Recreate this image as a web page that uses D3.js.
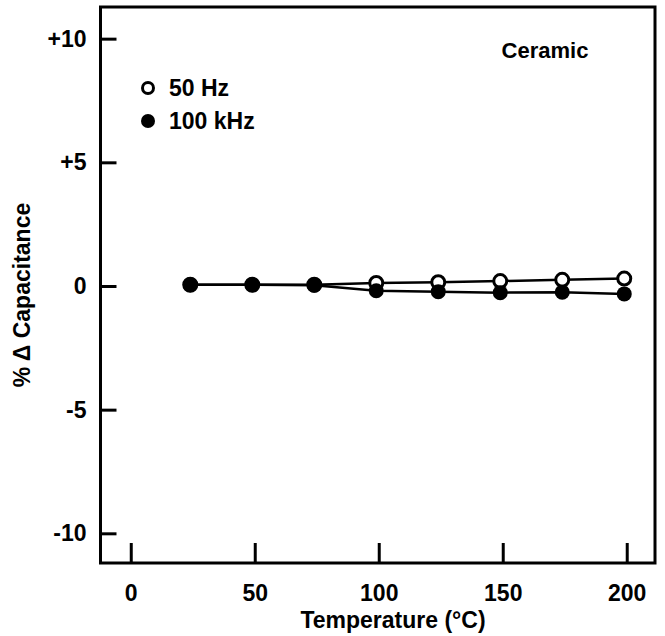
<!DOCTYPE html>
<meta charset="utf-8">
<title>Ceramic capacitance vs temperature</title>
<style>
  body { margin: 0; background: #fff; }
  text { font-family: "Liberation Sans", Arial, sans-serif; font-weight: bold; fill: #000; }
</style>
<body>
  <script src="https://d3js.org/d3.v7.min.js"></script>
  <script>
    const width = 665;
    const height = 636;

    // data
    const temps = [24, 49, 74, 99, 124, 149, 174, 199];
    const hz50 = [0.05, 0.05, 0.05, 0.12, 0.15, 0.2, 0.25, 0.3];
    const khz100 = [0.05, 0.05, 0.03, -0.19, -0.23, -0.27, -0.25, -0.32];
    const xTicks = [0, 50, 100, 150, 200];
    const yTicks = [10, 5, 0, -5, -10];
    const yTickLabels = ["+10", "+5", "0", "-5", "-10"];

    const margin = {left: 100.5, top: 7, right: 10, bottom: 73};
    const plotW = width - margin.left - margin.right;
    const plotH = height - margin.top - margin.bottom;

    const svg = d3.select("body")
      .append("svg")
      .attr("width", width)
      .attr("height", height);

    const g = svg.append("g")
      .attr("transform", "translate(" + margin.left + "," + margin.top + ")");

    const xScale = d3.scaleLinear()
      .domain([-12.2, 211.4])
      .range([0, plotW]);

    const yScale = d3.scaleLinear()
      .domain([-11.2, 11.28])
      .range([plotH, 0]);

    // x axis, ticks point up into the plot
    const xAxis = d3.axisBottom(xScale)
      .tickValues(xTicks)
      .tickSize(-20)
      .tickPadding(22);

    const xg = g.append("g")
      .attr("transform", "translate(0," + plotH + ")")
      .call(xAxis);
    xg.select(".domain").remove();
    xg.selectAll("line").attr("stroke", "#000").attr("stroke-width", 3);
    xg.selectAll("text").style("font-size", "23px").attr("font-family", null);

    // y axis, ticks point right into the plot
    const yAxis = d3.axisLeft(yScale)
      .tickValues(yTicks)
      .tickFormat((d, i) => yTickLabels[i])
      .tickSize(-16)
      .tickPadding(14);

    const yg = g.append("g").call(yAxis);
    yg.select(".domain").remove();
    yg.selectAll("line").attr("stroke", "#000").attr("stroke-width", 3);
    yg.selectAll("text").style("font-size", "23px").attr("font-family", null);

    // frame
    g.append("rect")
      .attr("x", 0)
      .attr("y", 0)
      .attr("width", plotW)
      .attr("height", plotH)
      .attr("fill", "none")
      .attr("stroke", "#000")
      .attr("stroke-width", 3);

    const line = d3.line()
      .x(d => xScale(d[0]))
      .y(d => yScale(d[1]));

    const s50 = temps.map((t, i) => [t, hz50[i]]);
    const s100 = temps.map((t, i) => [t, khz100[i]]);

    [s50, s100].forEach(s => {
      g.append("path")
        .datum(s)
        .attr("d", line)
        .attr("fill", "none")
        .attr("stroke", "#000")
        .attr("stroke-width", 2.5);
    });

    g.append("g")
      .selectAll("circle")
      .data(s50)
      .enter()
      .append("circle")
      .attr("cx", d => xScale(d[0]))
      .attr("cy", d => yScale(d[1]))
      .attr("r", 6.5)
      .attr("fill", "#fff")
      .attr("stroke", "#000")
      .attr("stroke-width", 3);

    g.append("g")
      .selectAll("circle")
      .data(s100)
      .enter()
      .append("circle")
      .attr("cx", d => xScale(d[0]))
      .attr("cy", d => yScale(d[1]))
      .attr("r", 7.5)
      .attr("fill", "#000");

    // legend
    svg.append("circle")
      .attr("cx", 148).attr("cy", 88).attr("r", 5.5)
      .attr("fill", "#fff").attr("stroke", "#000").attr("stroke-width", 3);
    svg.append("text")
      .attr("x", 169).attr("y", 96)
      .style("font-size", "23px")
      .text("50 Hz");
    svg.append("circle")
      .attr("cx", 148).attr("cy", 121).attr("r", 7)
      .attr("fill", "#000");
    svg.append("text")
      .attr("x", 169).attr("y", 129)
      .style("font-size", "23px")
      .text("100 kHz");

    svg.append("text")
      .attr("x", 545).attr("y", 58)
      .attr("text-anchor", "middle")
      .style("font-size", "22px")
      .text("Ceramic");

    // axis titles
    svg.append("text")
      .attr("x", 393).attr("y", 628)
      .attr("text-anchor", "middle")
      .style("font-size", "23px")
      .text("Temperature (°C)");

    svg.append("text")
      .attr("transform", "translate(30,295) rotate(-90)")
      .attr("text-anchor", "middle")
      .style("font-size", "23px")
      .text("% Δ Capacitance");
  </script>
</body>
